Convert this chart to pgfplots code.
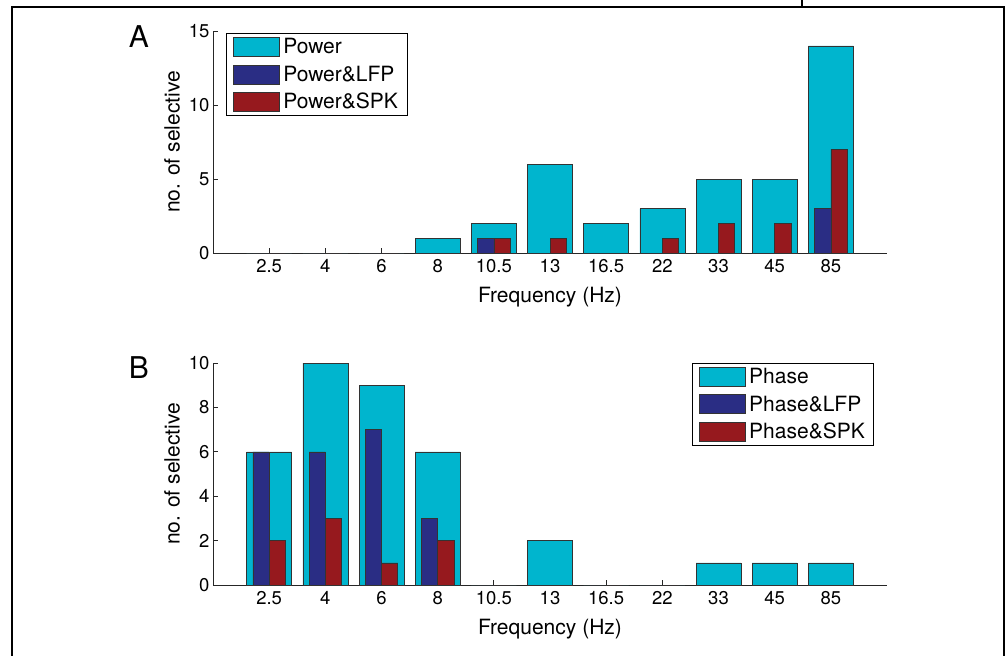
\documentclass[border=0pt]{standalone}
\usepackage{fontspec}
\setmainfont{TeX Gyre Heros}
\usepackage{pgfplots}
\pgfplotsset{compat=1.18}

\definecolor{pcyan}{RGB}{0,181,206}
\definecolor{pnavy}{RGB}{42,45,132}
\definecolor{pred}{RGB}{150,25,30}

\pgfplotsset{
  panel/.style={
    scale only axis, width=674pt, height=222pt,
    xmin=-1, xmax=11, ymin=0,
    axis lines*=left,
    axis line style={-, black!85, line width=0.8pt},
    xtick={0,...,10},
    xticklabels={2.5,4,6,8,10.5,13,16.5,22,33,45,85},
    tick align=inside,
    major tick length=5pt,
    tick style={black!85, line width=0.8pt},
    /pgf/number format/assume math mode=true,
    ticklabel style={font=\fontsize{18.5}{20}\selectfont},
    xticklabel style={yshift=-3pt},
    xlabel={Frequency (Hz)},
    ylabel={no. of selective},
    label style={font=\fontsize{21}{23}\selectfont},
    xlabel style={at={(axis description cs:0.5,0)}, yshift=-44pt, anchor=center},
    ylabel style={at={(axis description cs:-0.0608,0.5)}, anchor=center},
    legend cell align=left,
    legend style={draw=black, line width=0.8pt,
      font=\fontsize{21}{23}\selectfont,
      inner xsep=7pt, inner ysep=3pt,
      row sep=6.5pt, column sep=1.5pt,
      nodes={inner sep=2pt}},
  },
  wide bar/.style={ybar, bar width=0.8, bar shift=0,
    fill=pcyan, draw=black!80, line width=0.6pt,
    legend image code/.code={\draw[##1] (0pt,-9.5pt) rectangle (46pt,9.5pt);}},
  left bar/.style={ybar, bar width=0.29, bar shift=-0.145,
    fill=pnavy, draw=black!80, line width=0.6pt,
    legend image code/.code={\draw[##1] (0pt,-9.5pt) rectangle (46pt,9.5pt);}},
  right bar/.style={ybar, bar width=0.29, bar shift=0.145,
    fill=pred, draw=black!80, line width=0.6pt,
    legend image code/.code={\draw[##1] (0pt,-9.5pt) rectangle (46pt,9.5pt);}},
}

\begin{document}
\begin{tikzpicture}
\useasboundingbox (0pt,0pt) rectangle (1005pt,-656pt);

% cropped figure border
\draw[line width=2pt] (12pt,-656pt) -- (12pt,-7pt) -- (1004pt,-7pt) -- (1004pt,-656pt);
\draw[line width=2pt] (802pt,0pt) -- (802pt,-7pt);

% ---------------- panel A: power ----------------
\begin{axis}[panel, at={(213pt,-253pt)}, anchor=south west,
    ymax=15, ytick={0,5,10,15},
    legend style={at={(0.019,0.99)}, anchor=north west}]
  \addplot[wide bar] coordinates {(0,0) (1,0) (2,0) (3,1) (4,2) (5,6) (6,2) (7,3) (8,5) (9,5) (10,14)};
  \addplot[left bar] coordinates {(0,0) (1,0) (2,0) (3,0) (4,1) (5,0) (6,0) (7,0) (8,0) (9,0) (10,3)};
  \addplot[right bar] coordinates {(0,0) (1,0) (2,0) (3,0) (4,1) (5,1) (6,0) (7,1) (8,2) (9,2) (10,7)};
  \legend{Power, Power\&LFP, Power\&SPK}
\end{axis}
\node[anchor=base, font=\fontsize{30}{32}\selectfont] at (139pt,-47pt) {A};

% ---------------- panel B: phase ----------------
\begin{axis}[panel, at={(213pt,-585pt)}, anchor=south west,
    ymax=10, ytick={0,2,...,10},
    legend style={at={(0.981,1.0)}, anchor=north east}]
  \addplot[wide bar] coordinates {(0,6) (1,10) (2,9) (3,6) (4,0) (5,2) (6,0) (7,0) (8,1) (9,1) (10,1)};
  \addplot[left bar] coordinates {(0,6) (1,6) (2,7) (3,3) (4,0) (5,0) (6,0) (7,0) (8,0) (9,0) (10,0)};
  \addplot[right bar] coordinates {(0,2) (1,3) (2,1) (3,2) (4,0) (5,0) (6,0) (7,0) (8,0) (9,0) (10,0)};
  \legend{Phase, Phase\&LFP, Phase\&SPK}
\end{axis}
\node[anchor=base, font=\fontsize{30}{32}\selectfont] at (139pt,-378pt) {B};
\end{tikzpicture}
\end{document}
